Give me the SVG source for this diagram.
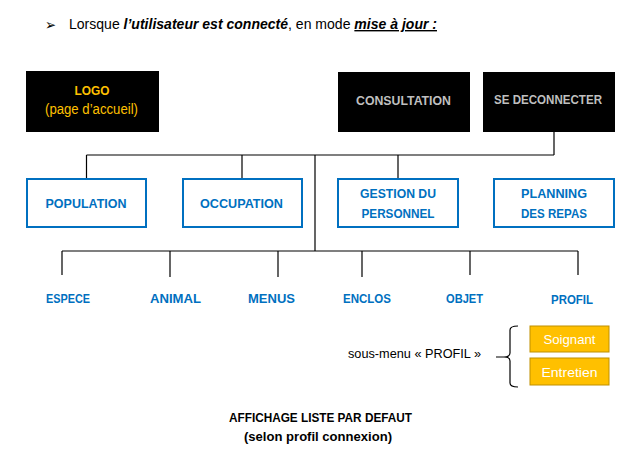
<svg xmlns="http://www.w3.org/2000/svg" width="641" height="472" viewBox="0 0 641 472">
<style>
text{font-family:"Liberation Sans",Arial,sans-serif;}
.blk{fill:#000;}
.blue{fill:#fff;stroke:#0070C0;stroke-width:2;}
.bt{fill:#0070C0;font-weight:bold;font-size:13px;text-anchor:middle;}
.ln{stroke:#000;stroke-width:1.2;fill:none;}
.gold{fill:#FFC000;stroke:#BF9000;stroke-width:1;}
.wt{fill:#fff;font-size:13px;text-anchor:middle;}
.gt{fill:#BFBFBF;font-weight:bold;font-size:13px;text-anchor:middle;}
</style>
<rect width="641" height="472" fill="#fff"/>
<g id="header">
<text x="45" y="30" font-size="15" textLength="11" lengthAdjust="spacingAndGlyphs" style="font-family:'DejaVu Sans',sans-serif">➢</text>
<text x="69" y="29" font-size="14" fill="#000" textLength="368" lengthAdjust="spacingAndGlyphs">Lorsque <tspan font-weight="bold" font-style="italic">l’utilisateur est connecté</tspan>, en mode <tspan font-weight="bold" font-style="italic" text-decoration="underline">mise à jour :</tspan></text>
</g>
<g id="connectors">
<path class="ln" d="M554 132V155M86.5 155H554M86.5 155V179M242 155V179M398 155V179M315 155V251M62 251H578M62 251V275M170 251V277M278 251V277M362 251V277M470 251V275M578 251V275"/>
<path class="ln" d="M518 326Q510 326 510 330V353Q510 357 504 357H496M504 357Q510 357 510 361V383Q510 387 518 387"/>
</g>
<g id="logo">
<rect class="blk" x="26" y="71" width="133" height="61"/>
<text x="92" y="95" fill="#FFC000" font-weight="bold" font-size="13" text-anchor="middle" textLength="35" lengthAdjust="spacingAndGlyphs">LOGO</text>
<text x="91.5" y="114" fill="#FFC000" font-size="14" text-anchor="middle" textLength="93" lengthAdjust="spacingAndGlyphs">(page d’accueil)</text>
</g>
<g id="consultation">
<rect class="blk" x="338" y="72" width="132" height="60"/>
<text class="gt" x="403.5" y="105" textLength="95" lengthAdjust="spacingAndGlyphs">CONSULTATION</text>
</g>
<g id="deconnecter">
<rect class="blk" x="483" y="72" width="132" height="60"/>
<text class="gt" x="548" y="104" textLength="108" lengthAdjust="spacingAndGlyphs">SE DECONNECTER</text>
</g>
<g id="population">
<rect class="blue" x="27" y="179" width="119" height="48"/>
<text class="bt" x="86" y="208" textLength="81" lengthAdjust="spacingAndGlyphs">POPULATION</text>
</g>
<g id="occupation">
<rect class="blue" x="183" y="179" width="119" height="48"/>
<text class="bt" x="241.5" y="208" textLength="83" lengthAdjust="spacingAndGlyphs">OCCUPATION</text>
</g>
<g id="gestion">
<rect class="blue" x="338" y="179" width="120" height="48"/>
<text class="bt" x="398" y="198" textLength="76" lengthAdjust="spacingAndGlyphs">GESTION DU</text>
<text class="bt" x="398" y="218" textLength="73" lengthAdjust="spacingAndGlyphs">PERSONNEL</text>
</g>
<g id="planning">
<rect class="blue" x="494" y="179" width="120" height="48"/>
<text class="bt" x="554" y="198" textLength="66" lengthAdjust="spacingAndGlyphs">PLANNING</text>
<text class="bt" x="554" y="218" textLength="66" lengthAdjust="spacingAndGlyphs">DES REPAS</text>
</g>
<g id="espece"><text class="bt" x="68" y="303" textLength="44" lengthAdjust="spacingAndGlyphs">ESPECE</text></g>
<g id="animal"><text class="bt" x="175.5" y="303" textLength="51" lengthAdjust="spacingAndGlyphs">ANIMAL</text></g>
<g id="menus"><text class="bt" x="271.5" y="303" textLength="47" lengthAdjust="spacingAndGlyphs">MENUS</text></g>
<g id="enclos"><text class="bt" x="367" y="303" textLength="48" lengthAdjust="spacingAndGlyphs">ENCLOS</text></g>
<g id="objet"><text class="bt" x="464.5" y="303" textLength="37" lengthAdjust="spacingAndGlyphs">OBJET</text></g>
<g id="profil"><text class="bt" x="572" y="304" textLength="42" lengthAdjust="spacingAndGlyphs">PROFIL</text></g>
<g id="sousmenu"><text x="348" y="358" font-size="13" fill="#000" textLength="133" lengthAdjust="spacingAndGlyphs">sous-menu « PROFIL »</text></g>
<g id="soignant">
<rect class="gold" x="530" y="326" width="79" height="26"/>
<text class="wt" x="569.5" y="344" textLength="52" lengthAdjust="spacingAndGlyphs">Soignant</text>
</g>
<g id="entretien">
<rect class="gold" x="530" y="358" width="79" height="27"/>
<text class="wt" x="569.5" y="377" textLength="56" lengthAdjust="spacingAndGlyphs">Entretien</text>
</g>
<g id="affichage">
<text x="320.5" y="422" font-size="13" font-weight="bold" text-anchor="middle" fill="#000" textLength="183" lengthAdjust="spacingAndGlyphs">AFFICHAGE LISTE PAR DEFAUT</text>
<text x="318" y="441" font-size="13" font-weight="bold" text-anchor="middle" fill="#000" textLength="148" lengthAdjust="spacingAndGlyphs">(selon profil connexion)</text>
</g>
</svg>
